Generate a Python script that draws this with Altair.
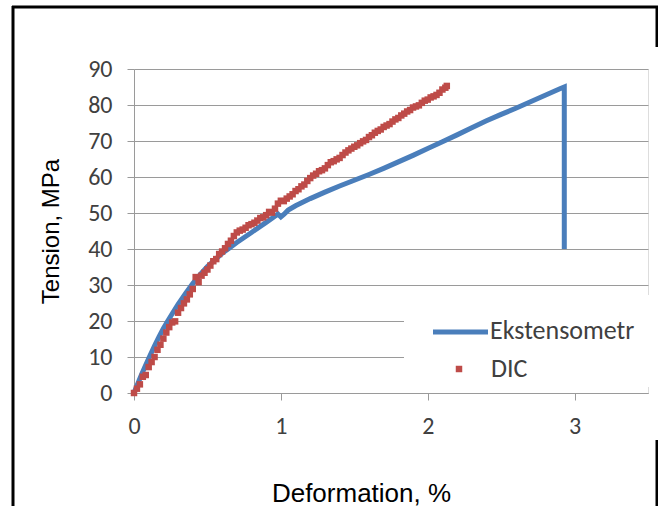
import altair as alt
import pandas as pd

# ---- data ----
ext_x = [0.0, 0.02, 0.05, 0.08, 0.11, 0.14, 0.17, 0.20, 0.23, 0.26, 0.30, 0.35, 0.40, 0.45,
         0.50, 0.55, 0.60, 0.65, 0.70, 0.75, 0.80, 0.85, 0.90, 0.95, 0.98, 1.00, 1.02, 1.05,
         1.10, 1.20, 1.30, 1.40, 1.50, 1.60, 1.70, 1.80, 1.90, 2.00, 2.10, 2.20, 2.30, 2.40,
         2.50, 2.60, 2.70, 2.80, 2.90, 2.93, 2.93]
ext_y = [0.0, 2.0, 5.0, 7.8, 10.5, 13.1, 15.6, 17.9, 20.0, 22.0, 24.6, 27.6, 30.4, 32.9,
         35.1, 37.0, 38.8, 40.3, 41.8, 43.2, 44.6, 46.0, 47.4, 48.8, 49.7, 48.9, 49.6, 50.8,
         52.0, 54.0, 55.8, 57.5, 59.1, 60.7, 62.4, 64.2, 66.0, 67.9, 69.8, 71.7, 73.7, 75.6,
         77.4, 79.1, 80.9, 82.7, 84.5, 85.0, 40.0]

dic_x = [0.00, 0.02, 0.04, 0.06, 0.08, 0.10, 0.12, 0.14, 0.16, 0.18, 0.20, 0.22, 0.24, 0.26,
         0.28, 0.30, 0.32, 0.34, 0.36, 0.38, 0.40, 0.42, 0.44, 0.46, 0.48, 0.50, 0.52, 0.54,
         0.56, 0.58, 0.60, 0.62, 0.64, 0.66, 0.68, 0.70, 0.72, 0.74, 0.76, 0.78, 0.80, 0.82,
         0.84, 0.86, 0.88, 0.90, 0.92, 0.94, 0.96, 0.98, 1.00, 1.02, 1.04, 1.06, 1.08, 1.10,
         1.12, 1.14, 1.16, 1.18, 1.20, 1.22, 1.24, 1.26, 1.28, 1.30, 1.32, 1.34, 1.36, 1.38,
         1.40, 1.42, 1.44, 1.46, 1.48, 1.50, 1.52, 1.54, 1.56, 1.58, 1.60, 1.62, 1.64, 1.66,
         1.68, 1.70, 1.72, 1.74, 1.76, 1.78, 1.80, 1.82, 1.84, 1.86, 1.88, 1.90, 1.92, 1.94,
         1.96, 1.98, 2.00, 2.02, 2.04, 2.06, 2.08, 2.10, 2.12, 2.13]
dic_y = [0.0, 1.2, 2.4, 4.5, 5.0, 7.2, 8.6, 10.0, 12.0, 13.4, 15.1, 16.8, 18.3, 19.6,
         19.9, 22.3, 23.6, 24.9, 26.0, 27.4, 28.9, 32.2, 30.8, 32.6, 33.4, 34.3, 35.4, 36.6,
         37.2, 38.6, 39.3, 40.2, 41.4, 42.3, 43.6, 44.6, 45.1, 45.4, 45.9, 46.6, 46.9, 47.3,
         47.9, 48.6, 48.8, 49.4, 50.3, 50.1, 51.2, 52.6, 53.4, 53.3, 54.0, 54.6, 55.2, 56.1,
         56.6, 57.4, 57.9, 58.9, 59.7, 60.4, 60.9, 61.6, 61.9, 62.4, 63.3, 64.1, 64.4, 64.9,
         65.3, 66.1, 66.8, 67.4, 67.9, 68.4, 68.8, 69.4, 69.9, 70.3, 71.1, 71.6, 72.3, 72.8,
         73.2, 73.9, 74.3, 74.7, 75.4, 76.0, 76.4, 77.1, 77.6, 78.2, 78.6, 79.3, 79.6, 79.9,
         80.6, 81.2, 81.5, 82.1, 82.4, 82.8, 83.4, 84.3, 84.8, 85.3]

x_ticks = [0, 1, 2, 3]
y_ticks = [0, 10, 20, 30, 40, 50, 60, 70, 80, 90]
legend_labels = ["Ekstensometr", "DIC"]

BLUE = "#4A7EBB"
RED = "#BE4B48"
GRAY = "#9a9a9a"
LABEL = "#404040"
TFONT = "Carlito, Lato"

ext = pd.DataFrame({"x": ext_x, "y": ext_y, "i": list(range(len(ext_x)))})
dic = pd.DataFrame({"x": dic_x, "y": dic_y})

xs = alt.Scale(domain=[0, 3.5], nice=False, zero=False)
ys = alt.Scale(domain=[0, 90], nice=False)

xaxis = alt.Axis(values=x_ticks, format="d", grid=False, domainColor=GRAY, tickColor=GRAY,
                 tickSize=7, labelFont=TFONT, labelFontSize=24, labelColor=LABEL,
                 labelPadding=14, labelOverlap=False, labelFlush=False,
                 title="Deformation, %",
                 titleFont="Liberation Sans", titleFontSize=26, titleFontWeight="normal",
                 titleColor="black", titleX=227, titleY=108, titleBaseline="alphabetic")
yaxis = alt.Axis(values=y_ticks, format="d", grid=True, gridColor=GRAY, domainColor=GRAY,
                 tickColor=GRAY, tickSize=7, labelFont=TFONT, labelFontSize=24,
                 labelColor=LABEL, labelPadding=15, labelOverlap=False, labelFlush=False,
                 title="Tension, MPa",
                 titleFont="Liberation Sans", titleFontSize=24, titleFontWeight="normal",
                 titleColor="black", titleX=-76, titleY=162, titleBaseline="alphabetic")

line = alt.Chart(ext).mark_line(color=BLUE, strokeWidth=5).encode(
    x=alt.X("x:Q", scale=xs, axis=xaxis),
    y=alt.Y("y:Q", scale=ys, axis=yaxis),
    order="i:Q",
)
pts = alt.Chart(dic).mark_square(color=RED, size=42, opacity=1).encode(
    x=alt.X("x:Q", scale=xs, axis=xaxis),
    y=alt.Y("y:Q", scale=ys, axis=yaxis),
)

# legend box (hides gridlines like the original)
leg_bg = alt.Chart().mark_rect(color="white").encode(
    x=alt.value(270), x2=alt.value(520), y=alt.value(226), y2=alt.value(318))
leg_line = alt.Chart().mark_rule(color=BLUE, strokeWidth=5).encode(
    x=alt.value(299), x2=alt.value(354), y=alt.value(263))
leg_sq = alt.Chart().mark_square(color=RED, size=42, opacity=1).encode(
    x=alt.value(325), y=alt.value(300))
leg_t1 = alt.Chart().mark_text(align="left", baseline="middle", font=TFONT, fontSize=26,
                               color=LABEL).encode(
    x=alt.value(356), y=alt.value(262), text=alt.value(legend_labels[0]))
leg_t2 = alt.Chart().mark_text(align="left", baseline="middle", font=TFONT, fontSize=26,
                               color=LABEL).encode(
    x=alt.value(357), y=alt.value(300), text=alt.value(legend_labels[1]))

# outer frame pieces
def vrule(x, y1, y2):
    return alt.Chart().mark_rule(color="black", strokeWidth=3).encode(
        x=alt.value(x), y=alt.value(y1), y2=alt.value(y2))

def hrule(y, x1, x2):
    return alt.Chart().mark_rule(color="black", strokeWidth=3).encode(
        y=alt.value(y), x=alt.value(x1), x2=alt.value(x2))

frame = [vrule(-121, -63, 440), hrule(-62, -122, 524), vrule(523, -63, -22),
         vrule(523, 371, 440)]

chart = alt.layer(leg_bg, line, pts, leg_line, leg_sq, leg_t1, leg_t2, *frame).properties(
    width=514, height=324,
    padding={"left": 134, "top": 69, "right": 10, "bottom": 113},
    autosize=alt.AutoSizeParams(type="none"),
).configure_view(stroke=None).configure(background="white")

chart.save("out.html", embed_options={"renderer": "svg", "actions": False})
